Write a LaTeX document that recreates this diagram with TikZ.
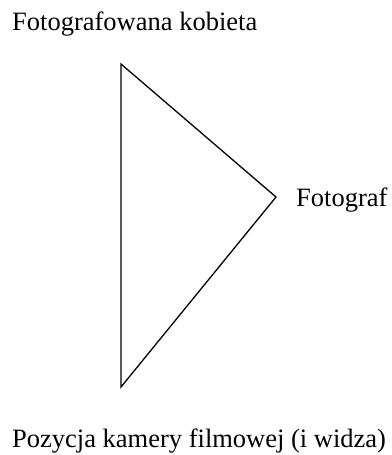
\documentclass[tikz,border=0pt]{standalone}
\usepackage{fontspec}
\setmainfont{Liberation Serif}
\begin{document}
\begin{tikzpicture}[x=1pt,y=-1pt,
  lbl/.style={inner sep=0pt,anchor=base west,font=\fontsize{26.5}{30}\selectfont},
  edge/.style={line width=1.3pt,line join=miter}]
\useasboundingbox (0,0) rectangle (391,455);
\coordinate (t) at (121,64);
\coordinate (r) at (276,197);
\coordinate (b) at (121,387);
\draw[edge] (t) -- (r) -- (b) -- cycle;
\node[lbl] (top) at (12,30) {Fotografowana kobieta};
\node[lbl] (fg) at (296,206) {Fotograf};
\node[lbl] (bot) at (12,447) {Pozycja kamery filmowej (i widza)};
\end{tikzpicture}
\end{document}
